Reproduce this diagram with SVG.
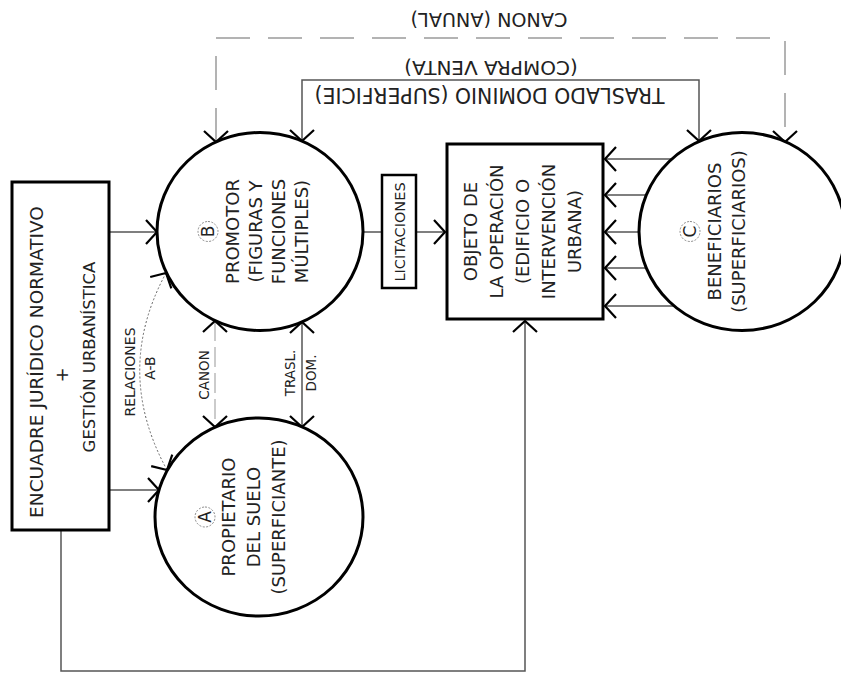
<svg xmlns="http://www.w3.org/2000/svg" width="841" height="677" viewBox="0 0 841 677">
<defs>
<marker id="arr" viewBox="-13 -14 15 28" markerWidth="15" markerHeight="28" refX="0" refY="0" orient="auto-start-reverse" markerUnits="userSpaceOnUse">
<path d="M-11,-12 L0,0 L-11,12" fill="none" stroke="#000" stroke-width="2.2"/>
</marker>
<style>
.t{font-family:"DejaVu Sans",sans-serif;fill:#222;text-anchor:middle;}
.ln{fill:none;stroke:#555;stroke-width:1.5;}
.dash{fill:none;stroke:#9a9a9a;stroke-width:1.5;stroke-dasharray:34 18;}
.dash2{fill:none;stroke:#b0b0b0;stroke-width:1.3;stroke-dasharray:20 6;}
.dot{fill:none;stroke:#666;stroke-width:1;stroke-dasharray:2 2;}
.node{fill:#fff;stroke:#000;stroke-width:3;}
.cl{fill:none;stroke:#888;stroke-width:1;stroke-dasharray:2 1.5;}
</style>
</defs>
<rect width="841" height="677" fill="#fff"/>

<g id="connectors">
<path class="ln" d="M109,232 H157" marker-end="url(#arr)"/>
<path class="ln" d="M109,490 H159" marker-end="url(#arr)"/>
<path class="ln" d="M61,530 V671 H525 V321" marker-end="url(#arr)"/>
<path class="ln" d="M363,232 H445" marker-end="url(#arr)"/>
<path class="ln" d="M672,159 H605" marker-end="url(#arr)"/>
<path class="ln" d="M646,195 H605" marker-end="url(#arr)"/>
<path class="ln" d="M639,232 H605" marker-end="url(#arr)"/>
<path class="ln" d="M646,268 H605" marker-end="url(#arr)"/>
<path class="ln" d="M674,306 H605" marker-end="url(#arr)"/>
<path class="ln" d="M302,141 V80 H699 V141" marker-start="url(#arr)" marker-end="url(#arr)"/>
<path class="dash" d="M216,142 V38 H785 V142" marker-start="url(#arr)" marker-end="url(#arr)"/>
<path class="dash2" d="M215,321 V427" marker-start="url(#arr)" marker-end="url(#arr)"/>
<path class="ln" d="M302,322 V427" marker-start="url(#arr)" marker-end="url(#arr)"/>
<path class="dot" d="M166,273 Q113,371 167,470" marker-start="url(#arr)" marker-end="url(#arr)"/>
<text class="t" font-size="19.2" transform="translate(489,20) rotate(180)" y="7">CANON (ANUAL)</text>
<text class="t" font-size="20" transform="translate(491,68) rotate(180)" y="7">(COMPRA VENTA)</text>
<text class="t" font-size="20.4" transform="translate(489.5,95) rotate(180)" y="7.5">TRASLADO DOMINIO (SUPERFICIE)</text>
<text class="t" font-size="14" transform="translate(130,372) rotate(-90)" y="5">RELACIONES</text>
<text class="t" font-size="14" transform="translate(150,368) rotate(-90)" y="5">A-B</text>
<text class="t" font-size="13.5" transform="translate(204,375) rotate(-90)" y="5">CANON</text>
<text class="t" font-size="13.5" transform="translate(290,373) rotate(-90)" y="5">TRASL.</text>
<text class="t" font-size="13.5" transform="translate(311,373) rotate(-90)" y="5">DOM.</text>
</g>

<g id="encuadre">
<rect class="node" x="12" y="182" width="97" height="348" stroke-width="3.5"/>
<text class="t" font-size="18.5" transform="translate(36,362) rotate(-90)" y="6.5">ENCUADRE JURÍDICO NORMATIVO</text>
<text class="t" font-size="18" transform="translate(61,375) rotate(-90)" y="6.5">+</text>
<text class="t" font-size="16.5" transform="translate(89,357) rotate(-90)" y="6">GESTIÓN URBANÍSTICA</text>
</g>

<g id="promotor">
<ellipse class="node" cx="260" cy="231.5" rx="103" ry="99"/>
<g transform="translate(260,231.5) rotate(-90)">
<circle class="cl" cx="0" cy="-52" r="10"/>
<text class="t" font-size="17" x="0" y="-46">B</text>
<text class="t" font-size="18"><tspan x="0" y="-21.5">PROMOTOR</tspan><tspan x="0" y="1.5">(FIGURAS Y</tspan><tspan x="0" y="24.5">FUNCIONES</tspan><tspan x="0" y="48">MÚLTIPLES)</tspan></text>
</g>
</g>

<g id="propietario">
<ellipse class="node" cx="259" cy="517" rx="104" ry="99"/>
<g transform="translate(259,517) rotate(-90)">
<circle class="cl" cx="0" cy="-54" r="10"/>
<text class="t" font-size="17" x="0" y="-48">A</text>
<text class="t" font-size="18"><tspan x="0" y="-24.5">PROPIETARIO</tspan><tspan x="0" y="0.5">DEL SUELO</tspan><tspan x="0" y="25.5">(SUPERFICIANTE)</tspan></text>
</g>
</g>

<g id="licitaciones">
<rect x="382" y="175" width="34" height="113" fill="#fff" stroke="#000" stroke-width="2.5"/>
<text class="t" font-size="14.5" transform="translate(399,232) rotate(-90)" y="5.5">LICITACIONES</text>
</g>

<g id="objeto">
<rect class="node" x="447" y="144" width="156" height="175"/>
<g transform="translate(525,231.5) rotate(-90)">
<text class="t" font-size="18"><tspan x="0" y="-48.5">OBJETO DE</tspan><tspan x="0" y="-22.5">LA OPERACIÓN</tspan><tspan x="0" y="3.5">(EDIFICIO O</tspan><tspan x="0" y="29.5">INTERVENCIÓN</tspan><tspan x="0" y="55.5">URBANA)</tspan></text>
</g>
</g>

<g id="beneficiarios">
<ellipse class="node" cx="742" cy="231.5" rx="103" ry="99"/>
<g transform="translate(742,231.5) rotate(-90)">
<circle class="cl" cx="0" cy="-52" r="10"/>
<text class="t" font-size="17" x="0" y="-46">C</text>
<text class="t" font-size="18"><tspan x="0" y="-21.5">BENEFICIARIOS</tspan><tspan x="0" y="2.5">(SUPERFICIARIOS)</tspan></text>
</g>
</g>
</svg>
